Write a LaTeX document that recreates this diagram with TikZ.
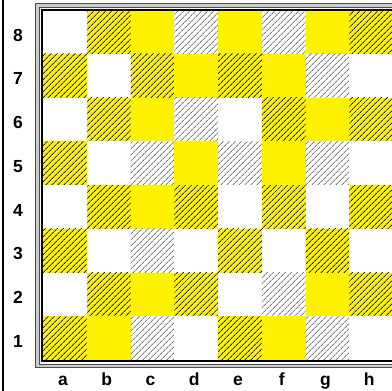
\documentclass[tikz,border=0pt]{standalone}
\usepackage{fontspec}
\setmainfont{Liberation Sans}
\usetikzlibrary{patterns.meta}
\tikzset{
  sqW/.style={fill=white},
  sqY/.style={fill=yellow},
  sqH/.style={fill=yellow,postaction={pattern={Lines[angle=45,distance=4pt,line width=0.9pt]},pattern color=black!85}},
  sqG/.style={fill=white,postaction={pattern={Lines[angle=45,distance=4pt,line width=0.9pt]},pattern color=black!50}},
  coord/.style={font=\bfseries\fontsize{17.5}{17.5}\selectfont,inner sep=0pt}
}
\begin{document}
\begin{tikzpicture}[x=1pt,y=-1pt]
\useasboundingbox[fill=white] (0,0) rectangle (392,391);
\draw[line width=2pt] (3,0)--(3,391);
\draw[fill=black!20,draw=black!70,line width=1pt] (35.5,3.5) rectangle (420,367.5);
\draw[fill=white,draw=black!70,line width=1pt] (39,7) rectangle (420,364.5);
\foreach \row [count=\r] in {{W,H,Y,G,Y,G,Y,H},{H,W,H,Y,H,Y,G,W},{W,H,Y,G,W,H,Y,H},{H,W,G,Y,G,Y,G,W},{W,H,Y,H,W,H,W,H},{H,W,G,W,H,W,H,W},{W,H,Y,H,W,G,Y,H},{H,Y,G,W,H,Y,G,W}} {
  \foreach \c [count=\f] in \row {
    \path[sq\c] ({43+43.75*(\f-1)},{10+43.75*(\r-1)}) rectangle ++(43.75,43.75);
  }
}
\draw[line width=2pt] (42,10) rectangle (400,361);
\foreach \n [count=\r] in {8,7,6,5,4,3,2,1} {
  \node[coord] (rank\n) at (18,{10+43.75*(\r-1)+25}) {\n};
}
\foreach \l [count=\f] in {a,b,c,d,e,f,g,h} {
  \node[coord,anchor=base] (file\l) at ({43+43.75*(\f-1)+20},385) {\l};
}
\end{tikzpicture}
\end{document}
